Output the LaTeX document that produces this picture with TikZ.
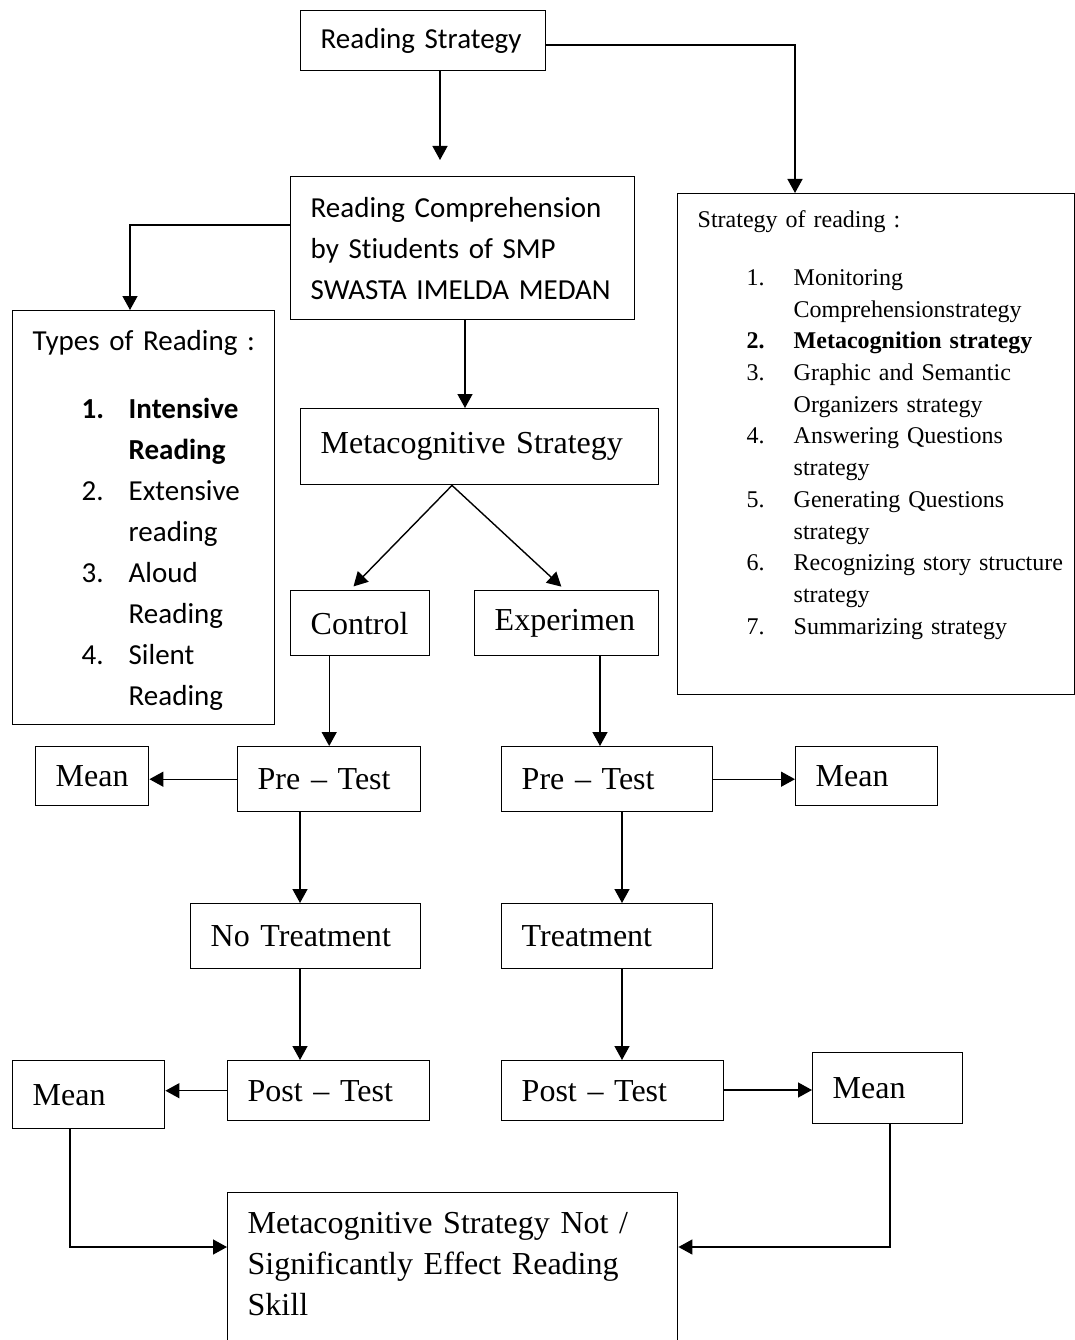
\documentclass[tikz,border=0pt]{standalone}
\usepackage{fontspec}
\setmainfont{Liberation Serif}
\newfontfamily\calfont[Ligatures=NoCommon]{Carlito}
\usetikzlibrary{arrows.meta}

\newcommand\ritem[2]{\hspace*{49pt}\mbox{\makebox[47pt][l]{#1}#2}}
\newcommand\rcont[1]{\hspace*{96pt}\mbox{#1}}

\begin{document}
\begin{tikzpicture}[x=1pt, y=-1pt,
    box/.style={draw, line width=1.4pt, anchor=north west, align=left, inner xsep=20pt},
    calibri/.style={font=\calfont\fontsize{29}{41}\selectfont},
    times/.style={font=\fontsize{32}{41}\selectfont},
    list/.style={font=\fontsize{24}{31.7}\selectfont},
    arr/.style={line width=1.4pt, -{Triangle[length=14pt,width=15pt]}}]

    \useasboundingbox (0,0) rectangle (1075,1340);

    \node [box, calibri, text width=205pt, minimum height=60pt] (rs) at (300,10) {Reading Strategy};
    \node [box, calibri, text width=304pt, minimum height=143pt] (rc) at (290,176)
      {Reading Comprehension\\ by Stiudents of SMP\\ SWASTA IMELDA MEDAN};

    \node [box, calibri, text width=222pt, inner ysep=0pt, text height=40pt, text depth=374pt] (types) at (12,310)
      {\mbox{Types of Reading :}\\[27pt]
       \ritem{\textbf{1.}}{\textbf{Intensive}}\\ \rcont{\textbf{Reading}}\\
       \ritem{2.}{Extensive}\\ \rcont{reading}\\
       \ritem{3.}{Aloud}\\ \rcont{Reading}\\
       \ritem{4.}{Silent}\\ \rcont{Reading}};

    \node [box, list, text width=357pt, inner ysep=0pt, text height=34pt, text depth=467pt] (sor) at (677,193)
      {\mbox{Strategy of reading :}\\[26pt]
       \ritem{1.}{Monitoring}\\ \rcont{Comprehensionstrategy}\\
       \ritem{\textbf{2.}}{\textbf{Metacognition strategy}}\\
       \ritem{3.}{Graphic and Semantic}\\ \rcont{Organizers strategy}\\
       \ritem{4.}{Answering Questions}\\ \rcont{strategy}\\
       \ritem{5.}{Generating Questions}\\ \rcont{strategy}\\
       \ritem{6.}{Recognizing story structure}\\ \rcont{strategy}\\
       \ritem{7.}{Summarizing strategy}};

    \foreach \n/\x/\y/\w/\h/\t in {ms/300/408/318/76/Metacognitive Strategy,
        ctrl/290/590/99/65/Control, exp/474/590/144/65/Experimen,
        pre1/237/746/143/65/Pre – Test, mean1/35/746/73/59/Mean,
        pre2/501/746/171/65/Pre – Test, mean2/795/746/102/59/Mean,
        nt/190/903/190/65/No Treatment, treat/501/903/171/65/Treatment,
        post1/227/1060/162/60/Post – Test, mean3/12/1060/112/68/Mean,
        post2/501/1060/182/60/Post – Test, mean4/812/1052/110/71/Mean}
      \node [box, times, text width=\w pt, minimum height=\h pt] (\n) at (\x,\y) {\t};

    \node [box, times, text width=410pt, inner ysep=0pt, text height=41pt, text depth=130pt] (concl) at (227,1192)
      {Metacognitive Strategy Not /\\ Significantly Effect Reading\\ Skill};

    % top part
    \draw [arr, shorten >=16pt] (rs.south -| 440,0) -- (rc.north -| 440,0);
    \draw [arr] (rs.east |- 0,45) -| (sor.north -| 795,0);
    \draw [arr] (rc.west |- 0,225) -| (types.north -| 130,0);
    \draw [arr] (rc.south -| 465,0) -- (ms.north -| 465,0);
    \draw [arr, shorten >=5pt] (ms.south -| 452,0) -- (ctrl.north -| 350,0);
    \draw [arr, shorten >=5pt] (ms.south -| 452,0) -- (exp.north -| 565,0);

    % control group
    \draw [arr] (ctrl.south -| pre1.north) -- (pre1.north);
    \draw [arr] (pre1.west) -- (pre1.west -| mean1.east);
    \draw [arr] (pre1.south -| 300,0) -- (nt.north -| 300,0);
    \draw [arr] (nt.south -| 300,0) -- (post1.north -| 300,0);
    \draw [arr] (post1.west) -- (post1.west -| mean3.east);

    % experiment group
    \draw [arr] (exp.south -| 600,0) -- (pre2.north -| 600,0);
    \draw [arr] (pre2.east) -- (pre2.east -| mean2.west);
    \draw [arr] (pre2.south -| 622,0) -- (treat.north -| 622,0);
    \draw [arr] (treat.south -| 622,0) -- (post2.north -| 622,0);
    \draw [arr] (post2.east |- 0,1090) -- (mean4.west |- 0,1090);

    % conclusion
    \draw [arr] (mean3.south -| 70,0) |- (concl.west |- 0,1247);
    \draw [arr] (mean4.south -| 890,0) |- (concl.east |- 0,1247);
\end{tikzpicture}
\end{document}
